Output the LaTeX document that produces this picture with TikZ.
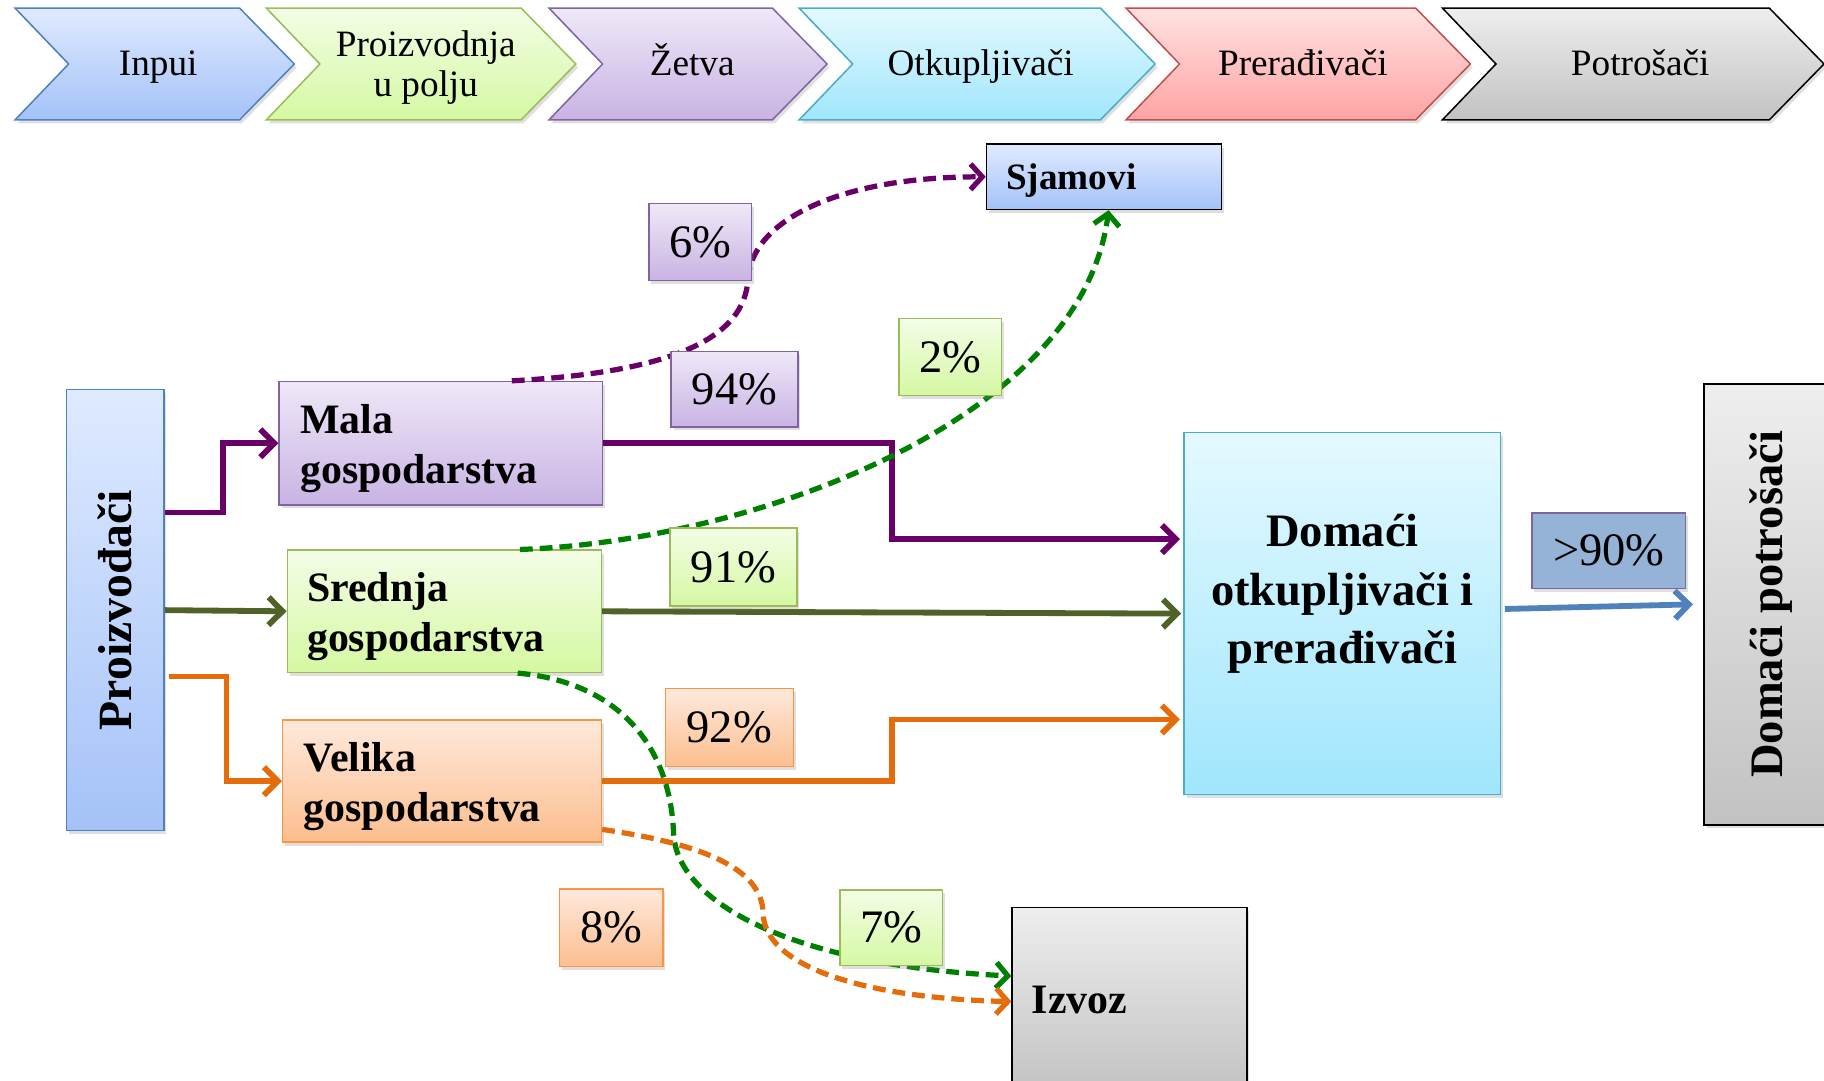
\documentclass[tikz,border=0pt]{standalone}
\usepackage{fontspec}
\setmainfont{Liberation Serif}
\usepackage{graphicx}
\usetikzlibrary{arrows.meta,shadows,calc}

\definecolor{blueT}{HTML}{DFEAFF}\definecolor{blueB}{HTML}{A4C2F8}\definecolor{blueD}{HTML}{4F81BD}
\definecolor{greenT}{HTML}{F3FDE6}\definecolor{greenB}{HTML}{D5F8A2}\definecolor{greenD}{HTML}{9BBB59}
\definecolor{purpT}{HTML}{EFE8F8}\definecolor{purpB}{HTML}{C8B3E3}\definecolor{purpD}{HTML}{8064A2}
\definecolor{cyanT}{HTML}{E4F9FF}\definecolor{cyanB}{HTML}{A0E6FC}\definecolor{cyanD}{HTML}{4BACC6}
\definecolor{redT}{HTML}{FFE2E2}\definecolor{redB}{HTML}{FFA3A3}\definecolor{redD}{HTML}{C0504D}
\definecolor{orT}{HTML}{FFE9DC}\definecolor{orB}{HTML}{FBBE8E}\definecolor{orD}{HTML}{F79646}
\definecolor{grayT}{HTML}{EEEEEE}\definecolor{grayB}{HTML}{C2C2C2}
\definecolor{pctblue}{HTML}{95B3D7}
\definecolor{lnpurple}{HTML}{680068}
\definecolor{lnolive}{HTML}{4F6228}
\definecolor{lnorange}{HTML}{E46C0A}
\definecolor{lngreen}{HTML}{008000}
\definecolor{lnblue}{HTML}{4F81BD}

\newcommand\mychev[5]{%
  \path[draw=#5, line width=1.3pt, top color=#3, bottom color=#4,
        drop shadow={shadow xshift=2pt,shadow yshift=-3pt,opacity=0.25}]
    (#1,7) -- (#2,7) -- (#2+47,55) -- (#2,103) -- (#1,103) -- (#1+46,55) -- cycle;}

\begin{document}
\begin{tikzpicture}[x=1pt,y=-1pt,
  box/.style={draw, line width=1.3pt, inner sep=0pt,
    drop shadow={shadow xshift=2pt,shadow yshift=-3pt,opacity=0.25}},
  bluebox/.style={box, draw=blueD, top color=blueT, bottom color=blueB},
  greenbox/.style={box, draw=greenD, top color=greenT, bottom color=greenB},
  purpbox/.style={box, draw=purpD, top color=purpT, bottom color=purpB},
  cyanbox/.style={box, draw=cyanD, top color=cyanT, bottom color=cyanB},
  orbox/.style={box, draw=orD, top color=orT, bottom color=orB},
  graybox/.style={box, draw=black, top color=grayT, bottom color=grayB},
  bantext/.style={font=\fontsize{32}{34}\selectfont, align=center, inner sep=0pt},
  banline/.style={bantext, anchor=base},
  farm/.style={font=\fontsize{36}{43}\selectfont\bfseries, align=left},
  pct/.style={font=\fontsize{40}{48}\selectfont},
  solid arrow/.style={line width=5pt, -{Straight Barb[length=12pt,width=24pt]}},
  dash arrow/.style={line width=4.5pt, dash pattern=on 11pt off 6pt,
    -{Straight Barb[length=10pt,width=22pt]}},
]
\useasboundingbox (0,0) rectangle (1568,929);

% ---- banner ----
\mychev{13}{206}{blueT}{blueB}{blueD}
\mychev{229}{448}{greenT}{greenB}{greenD}
\mychev{472}{664}{purpT}{purpB}{purpD}
\mychev{687}{946}{cyanT}{cyanB}{cyanD}
\mychev{968}{1217}{redT}{redB}{redD}
\mychev{1240}{1521}{grayT}{grayB}{black}
\node[banline] (b1) at (136,65) {Inpui};
\node[bantext] (b2) at (366,58) {Proizvodnja\\u polju};
\node[banline] (b3) at (595,65) {Žetva};
\node[banline] (b4) at (843,65) {Otkupljivači};
\node[banline] (b5) at (1120,65) {Prerađivači};
\node[banline] (b6) at (1410,65) {Potrošači};

% ---- main boxes ----
\node[bluebox, minimum width=84pt, minimum height=379pt] (prod) at (99,524.5)
  {\rotatebox{90}{\fontsize{41}{48}\selectfont\bfseries Proizvođači}};
\node[purpbox, farm, minimum width=278pt, minimum height=106pt, text width=242pt] (mala) at (379,381)
  {\rule{0pt}{34pt}Mala\\gospodarstva};
\node[greenbox, farm, minimum width=270pt, minimum height=105pt, text width=236pt] (sred) at (382,525.5)
  {\rule{0pt}{34pt}Srednja\\gospodarstva};
\node[orbox, farm, minimum width=274pt, minimum height=105pt, text width=238pt] (vel) at (380,671.5)
  {\rule{0pt}{34pt}Velika\\gospodarstva};
\node[bluebox, draw=black, minimum width=202pt, minimum height=56pt, text width=168pt, align=left,
  font=\fontsize{32}{38}\selectfont\bfseries] (sjam) at (949,152) {\rule{0pt}{28pt}Sjamovi};
\node[cyanbox, minimum width=272pt, minimum height=311pt] (dom) at (1154,527.5) {};
\node[font=\fontsize{40}{50}\selectfont\bfseries, align=center, inner sep=0pt] (domt)
  at ([yshift=17pt]dom.center) {Domaći\\otkupljivači i\\prerađivači};
\node[graybox, minimum width=115pt, minimum height=379pt] (potr) at (1522.5,519.5)
  {\rotatebox{90}{\fontsize{40}{48}\selectfont\bfseries Domaći potrošači}};
\node[graybox, minimum width=202pt, minimum height=160pt, text width=168pt, align=left,
  font=\fontsize{36}{43}\selectfont\bfseries] (izvoz) at (971,860) {Izvoz};

% ---- solid connectors ----
\draw[solid arrow, lnpurple] ([yshift=84pt]prod.east) -- ++(50,0) |- (mala.west);
\draw[solid arrow, lnolive] (prod.east) -- (sred.west);
\draw[solid arrow, lnorange] ([xshift=4pt,yshift=-57pt]prod.east) -- ++(49,0) |- (vel.west);
\draw[solid arrow, lnpurple, shorten >=3pt] (mala.east) -- ++(248,0) |- ([yshift=64pt]dom.west);
\draw[solid arrow, lnolive, shorten >=2pt] (sred.east) -- (dom.west);
\draw[solid arrow, lnorange, shorten >=3pt] (vel.east) -- ++(249,0) |- ([yshift=-91pt]dom.west);
\draw[solid arrow, lnblue] ([xshift=3pt,yshift=4pt]dom.east) -- ([xshift=-9pt]potr.west);

% ---- dashed connectors ----
\draw[dash arrow, lnpurple] ([xshift=61pt]mala.north)
  .. controls (580,320) and (640,290) .. (643,240)
  .. controls (646,190) and (720,152) .. (sjam.west);
\draw[dash arrow, lngreen] ([xshift=65pt]sred.north)
  .. controls (650,465) and (930,360) .. ([xshift=4pt]sjam.south);
\draw[dash arrow, lngreen] ([xshift=63pt]sred.south)
  .. controls (520,585) and (575,630) .. (579,715)
  .. controls (580,775) and (680,830) .. ([yshift=21pt]izvoz.west);
\draw[dash arrow, lnorange] ([yshift=-41.5pt]vel.east)
  .. controls (600,725) and (655,745) .. (656,785)
  .. controls (657,830) and (740,858) .. ([yshift=-1pt]izvoz.west);

% ---- percentage labels ----
\node[purpbox, pct, minimum width=88pt, minimum height=66pt] (p6) at (602,208) {6\%};
\node[purpbox, pct, minimum width=109pt, minimum height=65pt] (p94) at (631.5,334.5) {94\%};
\node[greenbox, pct, minimum width=88pt, minimum height=66pt] (p2) at (817,307) {2\%};
\node[greenbox, pct, minimum width=109pt, minimum height=67pt] (p91) at (630.5,487.5) {91\%};
\node[orbox, pct, minimum width=110pt, minimum height=67pt] (p92) at (627,625.5) {92\%};
\node[orbox, pct, minimum width=89pt, minimum height=67pt] (p8) at (525.5,797.5) {8\%};
\node[greenbox, pct, minimum width=88pt, minimum height=65pt] (p7) at (766,797.5) {7\%};
\node[box, draw=purpD, fill=pctblue, pct, minimum width=132pt, minimum height=65pt] (p90) at (1383,473.5) {>90\%};
\end{tikzpicture}
\end{document}
